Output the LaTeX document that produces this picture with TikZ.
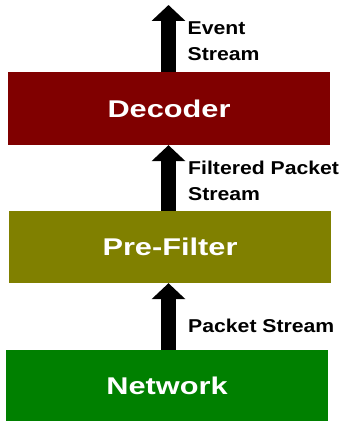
\documentclass[tikz,border=0pt]{standalone}
\usepackage{fontspec}
\usepackage{tikz}
\usetikzlibrary{arrows.meta,positioning}
\setmainfont{Liberation Sans}
\newfontfamily\boxfont{Liberation Sans}[FakeStretch=1.27]
\newfontfamily\streamfont{Liberation Sans}[FakeStretch=1.14]
\definecolor{decred}{RGB}{128,0,0}
\definecolor{filterolive}{RGB}{128,128,0}
\definecolor{netgreen}{RGB}{0,128,0}

\begin{document}
\begin{tikzpicture}[x=1pt,y=1pt,
    stage/.style={minimum width=322pt, inner sep=0pt, text=white,
      font=\boxfont\bfseries\fontsize{24.2}{29}\selectfont},
    flow/.style={line width=15.5pt, -{Triangle[width=33pt,length=16pt]}},
    lbl/.style={anchor=south west, inner sep=0pt, align=left,
      font=\streamfont\bfseries\fontsize{18.6}{26}\selectfont}]
\useasboundingbox (0,0) rectangle (343,422);

% Stages
\node[stage, fill=netgreen, minimum height=71pt] (network) at (167,36.5) {Network};
\node[stage, fill=filterolive, minimum height=72pt] (prefilter) at (170,175) {Pre-Filter};
\node[stage, fill=decred, minimum height=73pt] (decoder) at (169,313.5) {Decoder};
\coordinate (out) at (168.5,417);

% Streams
\draw[flow] (network.north -| out) -- (prefilter.south -| out);
\draw[flow] (prefilter.north -| out) -- (decoder.south -| out);
\draw[flow] (decoder.north -| out) -- (out);

% Stream labels
\node[lbl] (pktlbl) at (188,88.7) {Packet Stream};
\node[lbl] (filtlbl) at (188,221) {Filtered Packet\\Stream};
\node[lbl] (evlbl) at (187.5,361) {Event\\Stream};
\end{tikzpicture}
\end{document}
